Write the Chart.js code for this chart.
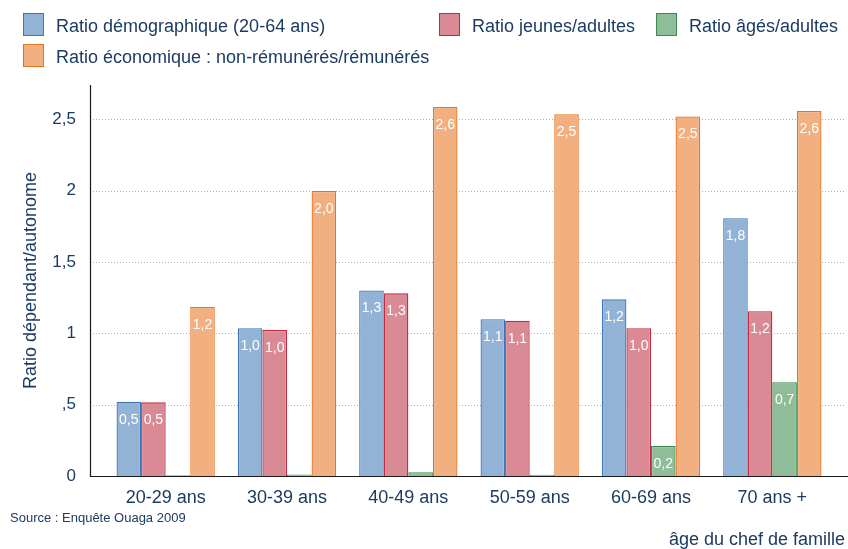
<!DOCTYPE html>
<html>
<head>
<meta charset="utf-8">
<script src="https://cdn.jsdelivr.net/npm/chart.js@4"></script>
<style>
  html, body { margin: 0; padding: 0; background: #fff; }
  #wrap { width: 848px; height: 549px; position: relative; }
</style>
</head>
<body>
<div id="wrap"><canvas id="ratio_Chart"></canvas></div>
<script>
// categories and series
const ages = ['20-29 ans', '30-39 ans', '40-49 ans', '50-59 ans', '60-69 ans', '70 ans +'];
const demographique = [0.52, 1.035, 1.30, 1.098, 1.238, 1.806];
const jeunes = [0.516, 1.023, 1.28, 1.088, 1.035, 1.155];
const ages_adultes = [0.005, 0.01, 0.026, 0.008, 0.21, 0.657];
const economique = [1.184, 1.997, 2.586, 2.535, 2.52, 2.558];
const yTicks = [0, 0.5, 1, 1.5, 2, 2.5];

const navy = '#1c3b63';
const FONT = 'Liberation Sans, Arial, sans-serif';

const fmt = (v) => v.toFixed(1).replace('.', ',');
const tickFmt = (v) => {
  if (v === 0) return '0';
  let s = String(v).replace('.', ',');
  if (s.startsWith('0,')) s = s.slice(1);
  return s;
};

const data = {
  labels: ages,
  datasets: [
    { label: 'Ratio démographique (20-64 ans)', data: demographique,
      backgroundColor: '#93b3d6', borderColor: '#3f75b5', borderWidth: 1.3 },
    { label: 'Ratio jeunes/adultes', data: jeunes,
      backgroundColor: '#d98a95', borderColor: '#c22a42', borderWidth: 1.3 },
    { label: 'Ratio âgés/adultes', data: ages_adultes,
      backgroundColor: '#8fbc99', borderColor: '#3b8a4e', borderWidth: 1.3 },
    { label: 'Ratio économique : non-rémunérés/rémunérés', data: economique,
      backgroundColor: '#f2b080', borderColor: '#e8731f', borderWidth: 1.3 }
  ]
};

// gridlines + axis lines, wider than the chart area like the original
const gridPlugin = {
  id: 'grid',
  beforeDatasetsDraw(chart) {
    const ctx = chart.ctx, y = chart.scales.y, area = chart.chartArea;
    const x0 = area.left - 15, x1 = chart.width - 3;
    ctx.save();
    ctx.strokeStyle = '#b0b0b0';
    ctx.lineWidth = 1;
    ctx.setLineDash([1, 2]);
    yTicks.forEach(t => {
      if (t === 0) return;
      const py = Math.round(y.getPixelForValue(t)) + 0.5;
      ctx.beginPath(); ctx.moveTo(x0, py); ctx.lineTo(x1, py); ctx.stroke();
    });
    ctx.restore();
  },
  afterDatasetsDraw(chart) {
    const ctx = chart.ctx, y = chart.scales.y, area = chart.chartArea;
    const x0 = area.left - 15, x1 = chart.width;
    const py = Math.round(y.getPixelForValue(0)) + 0.5;
    ctx.save();
    ctx.strokeStyle = '#1a1a1a';
    ctx.lineWidth = 1.2;
    ctx.beginPath(); ctx.moveTo(x0 + 0.5, area.top); ctx.lineTo(x0 + 0.5, py); ctx.lineTo(x1, py); ctx.stroke();
    ctx.restore();
  }
};

// white value labels inside bar tops
const valuePlugin = {
  id: 'values',
  afterDatasetsDraw(chart) {
    const ctx = chart.ctx;
    ctx.save();
    ctx.fillStyle = '#ffffff';
    ctx.font = '14px ' + FONT;
    ctx.textAlign = 'center';
    ctx.textBaseline = 'middle';
    chart.data.datasets.forEach((ds, i) => {
      chart.getDatasetMeta(i).data.forEach((bar, j) => {
        const v = ds.data[j];
        if (v < 0.1) return;
        ctx.fillText(fmt(v), bar.x, bar.y + 18);
      });
    });
    ctx.restore();
  }
};

// legend, source and x title drawn as text
const textPlugin = {
  id: 'texts',
  afterDraw(chart) {
    const ctx = chart.ctx;
    const ds = chart.data.datasets;
    const spots = [[23, 13], [439, 13], [656, 13], [23, 44]];
    ctx.save();
    ctx.font = '18px ' + FONT;
    ctx.textBaseline = 'middle';
    ctx.textAlign = 'left';
    ds.forEach((d, i) => {
      const [bx, by] = spots[i];
      ctx.fillStyle = d.backgroundColor;
      ctx.fillRect(bx, by, 21, 23);
      ctx.strokeStyle = d.borderColor;
      ctx.lineWidth = 1;
      ctx.strokeRect(bx + 0.5, by + 0.5, 20, 22);
      ctx.fillStyle = navy;
      ctx.fillText(d.label, bx + 33, by + 14);
    });
    ctx.font = '13px ' + FONT;
    ctx.fillText('Source : Enquête Ouaga 2009', 10, 518);
    ctx.font = '18px ' + FONT;
    ctx.textAlign = 'right';
    ctx.fillText('âge du chef de famille', 845, 540);
    ctx.restore();
  }
};

const config = {
  type: 'bar',
  data: data,
  options: {
    responsive: true,
    maintainAspectRatio: false,
    animation: false,
    layout: { padding: { top: 85, right: 15, bottom: 43, left: 0 } },
    datasets: { bar: { barPercentage: 1, categoryPercentage: 0.81 } },
    plugins: { legend: { display: false }, tooltip: { enabled: false } },
    scales: {
      x: {
        grid: { display: false, drawTicks: false },
        border: { display: false },
        ticks: { color: navy, font: { family: FONT, size: 18 }, padding: 11, maxRotation: 0 },
        afterFit(s) { s.height = 30; }
      },
      y: {
        min: 0,
        max: 2.74,
        grid: { display: false, drawTicks: false },
        border: { display: false },
        afterBuildTicks(s) { s.ticks = yTicks.map(v => ({ value: v })); },
        ticks: { color: navy, font: { family: FONT, size: 17 }, padding: 29, callback: (v) => tickFmt(v) },
        title: { display: true, text: 'Ratio dépendant/autonome', color: navy,
                 font: { family: FONT, size: 18 }, padding: { top: 20, bottom: 0 } },
        afterFit(s) { s.width = 105; }
      }
    }
  },
  plugins: [gridPlugin, valuePlugin, textPlugin]
};

const myChart = new Chart(document.getElementById('ratio_Chart'), config);
</script>
</body>
</html>
